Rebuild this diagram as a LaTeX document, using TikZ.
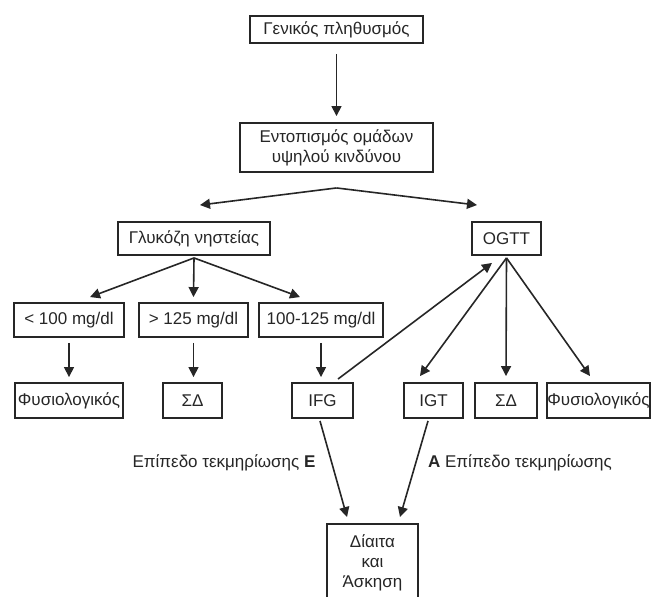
\documentclass[tikz,border=0pt]{standalone}
\usepackage{fontspec}
\setmainfont{Liberation Sans}
\usetikzlibrary{arrows.meta}
\begin{document}
\begin{tikzpicture}[x=1pt,y=-1pt,
  box/.style={draw=black!85,line width=1.9pt,inner sep=0pt,align=center,
    text=black!85,font=\fontsize{17}{20}\selectfont},
  lbl/.style={inner sep=0pt,text=black!85,font=\fontsize{17}{20}\selectfont},
  arr/.style={line width=1.6pt,draw=black!85,-{Triangle[length=10pt,width=10pt]}}]
\useasboundingbox (0,0) rectangle (652,596);
\begin{scope}
\clip (0,0) rectangle (652,596);
\node[box,minimum width=173pt,minimum height=27pt] (gen) at (336.5,29.5) {Γενικός πληθυσμός};
\node[box,minimum width=193pt,minimum height=49pt] (ent) at (336.5,147.5) {Εντοπισμός ομάδων\\υψηλού κινδύνου};
\node[box,minimum width=152pt,minimum height=33pt] (glu) at (194,238.5) {Γλυκόζη νηστείας};
\node[box,minimum width=69pt,minimum height=33pt] (ogtt) at (506.5,238.5) {OGTT};
\node[box,minimum width=110pt,minimum height=34pt] (lt) at (69,320) {< 100 mg/dl};
\node[box,minimum width=109pt,minimum height=34pt] (gt) at (193.5,320) {> 125 mg/dl};
\node[box,minimum width=124pt,minimum height=34pt] (mid) at (321,320) {100-125 mg/dl};
\node[box,minimum width=108pt,minimum height=35pt] (fy1) at (69,400.5) {Φυσιολογικός};
\node[box,minimum width=59pt,minimum height=35pt] (sd1) at (192.5,400.5) {ΣΔ};
\node[box,minimum width=61pt,minimum height=35pt] (ifg) at (322.5,400.5) {IFG};
\node[box,minimum width=59pt,minimum height=35pt] (igt) at (433.5,400.5) {IGT};
\node[box,minimum width=62pt,minimum height=35pt] (sd2) at (506,400.5) {ΣΔ};
\node[box,minimum width=101pt,minimum height=35pt] (fy2) at (598.5,400.5) {Φυσιολογικός};
\node[box,minimum width=91pt,minimum height=78pt] (diet) at (372.5,563) {Δίαιτα\\και\\Άσκηση};
\node[lbl] (le) at (224,463) {Επίπεδο τεκμηρίωσης \textbf{Ε}};
\node[lbl] (la) at (520,463) {\textbf{Α} Επίπεδο τεκμηρίωσης};
\coordinate (apex) at ([yshift=-15pt]ent.south);
\draw[arr,shorten <=10pt,shorten >=6pt] (gen.south) -- (ent.north);
\draw[arr] (apex) -- ([xshift=6pt,yshift=16pt]glu.north);
\draw[arr] (apex) -- ([xshift=-29.5pt,yshift=16pt]ogtt.north);
\draw[arr] ([yshift=-2pt]glu.south) -- ([xshift=21pt,yshift=5pt]lt.north);
\draw[arr] ([yshift=-2pt]glu.south) -- ([yshift=5pt]gt.north);
\draw[arr] ([yshift=-2pt]glu.south) -- ([xshift=-21pt,yshift=5pt]mid.north);
\draw[arr,shorten <=5pt,shorten >=5pt] (lt.south) -- (lt.south |- fy1.north);
\draw[arr,shorten <=5pt,shorten >=5pt] (gt.south) -- (gt.south |- sd1.north);
\draw[arr,shorten <=5pt,shorten >=5pt] (mid.south) -- (mid.south |- ifg.north);
\draw[arr] ([yshift=-2pt]ogtt.south) -- ([xshift=-13.5pt,yshift=6pt]igt.north);
\draw[arr] ([yshift=-2pt]ogtt.south) -- ([yshift=6pt]sd2.north);
\draw[arr] ([yshift=-2pt]ogtt.south) -- ([xshift=-8.5pt,yshift=6pt]fy2.north);
\draw[arr] ([xshift=15.5pt,yshift=3pt]ifg.north) -- ([xshift=-14.5pt,yshift=-7pt]ogtt.south);
\draw[arr] ([xshift=-2.5pt,yshift=-2pt]ifg.south) -- ([xshift=-25.5pt,yshift=6pt]diet.north);
\draw[arr] ([xshift=-5.5pt,yshift=-2pt]igt.south) -- ([xshift=27.5pt,yshift=6pt]diet.north);
\end{scope}
\end{tikzpicture}
\end{document}
